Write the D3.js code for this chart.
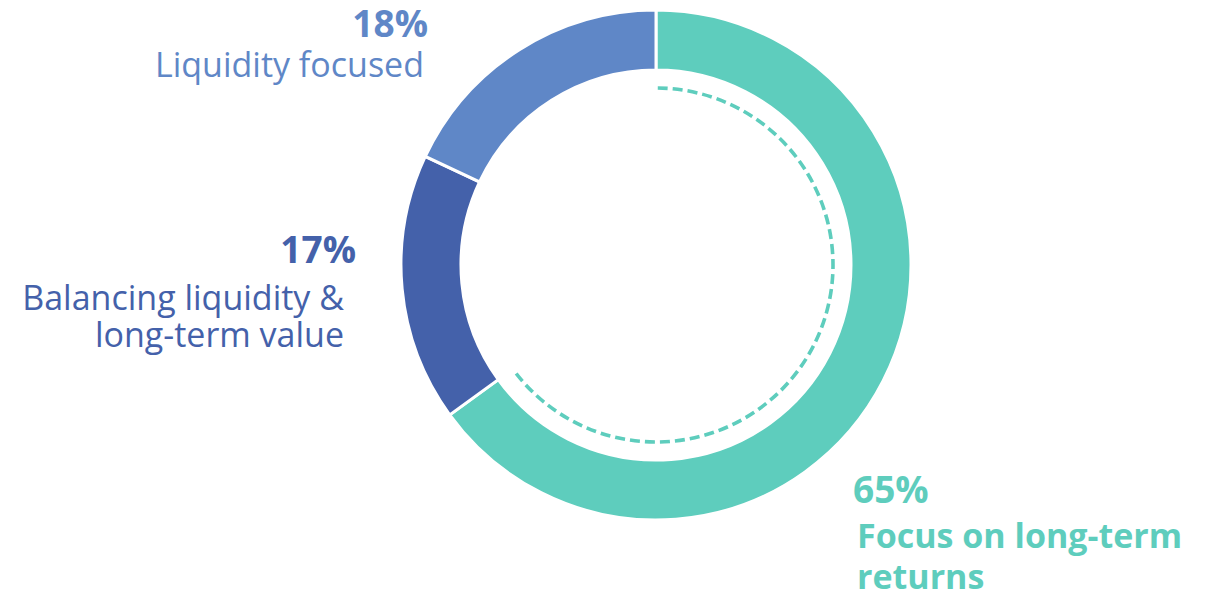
<!DOCTYPE html>
<html>
<head>
<meta charset="utf-8">
<script src="https://cdn.jsdelivr.net/npm/d3@7"></script>
<style>
  html, body { margin: 0; padding: 0; background: #fff; }
  svg { display: block; }
  text { font-family: "Open Sans", "Noto Sans", sans-serif; }
</style>
</head>
<body>
<svg id="chart" width="1206" height="596"></svg>
<script>
// Share of respondents by investment priority
const categories = ["Focus on long-term returns", "Balancing liquidity & long-term value", "Liquidity focused"];
const values = [65, 17, 18];
const valueLabels = ["65%", "17%", "18%"];
const labelLines = [
  ["Focus on long-term", "returns"],
  ["Balancing liquidity &", "long-term value"],
  ["Liquidity focused"]
];
const colors = ["#5ECDBD", "#4461AA", "#5F87C7"];

const width = 1206, height = 596;
const cx = 656, cy = 265;
const outerR = 255, innerR = 195, dashR = 177;

const svg = d3.select("#chart");
const g = svg.append("g").attr("transform", `translate(${cx},${cy})`);

const pie = d3.pie().sort(null).value(d => d.value);
const data = categories.map((c, i) => ({ name: c, value: values[i], color: colors[i] }));
const arcs = pie(data);

const arc = d3.arc().innerRadius(innerR).outerRadius(outerR);

g.selectAll("path.slice")
  .data(arcs)
  .join("path")
  .attr("class", "slice")
  .attr("d", arc)
  .attr("fill", d => d.data.color)
  .attr("stroke", "#fff")
  .attr("stroke-width", 3);

// Dashed inner guide along the largest slice
const main = arcs[0];
const p = d3.path();
p.arc(0, 0, dashR, main.startAngle + 0.01 - Math.PI / 2, main.endAngle - 0.027 - Math.PI / 2);
g.append("path")
  .attr("d", p.toString())
  .attr("fill", "none")
  .attr("stroke", colors[0])
  .attr("stroke-width", 3.6)
  .attr("stroke-dasharray", "10 5");

// Labels
const labelSpecs = [
  { x: 853, y: 503, anchor: "start", lineX: 857, lineY: [548, 589], weight: 700 },
  { x: 356, y: 263, anchor: "end", lineX: 344, lineY: [310, 347], weight: 400 },
  { x: 428, y: 37, anchor: "end", lineX: 424, lineY: [77], weight: 400 }
];

labelSpecs.forEach((s, i) => {
  svg.append("text")
    .attr("x", s.x).attr("y", s.y)
    .attr("text-anchor", s.anchor)
    .attr("fill", colors[i])
    .attr("font-size", 37)
    .attr("font-weight", 700)
    .text(valueLabels[i]);
  labelLines[i].forEach((line, j) => {
    svg.append("text")
      .attr("x", s.lineX).attr("y", s.lineY[j])
      .attr("text-anchor", s.anchor)
      .attr("fill", colors[i])
      .attr("font-size", 34)
      .attr("font-weight", s.weight)
      .text(line);
  });
});
</script>
</body>
</html>
